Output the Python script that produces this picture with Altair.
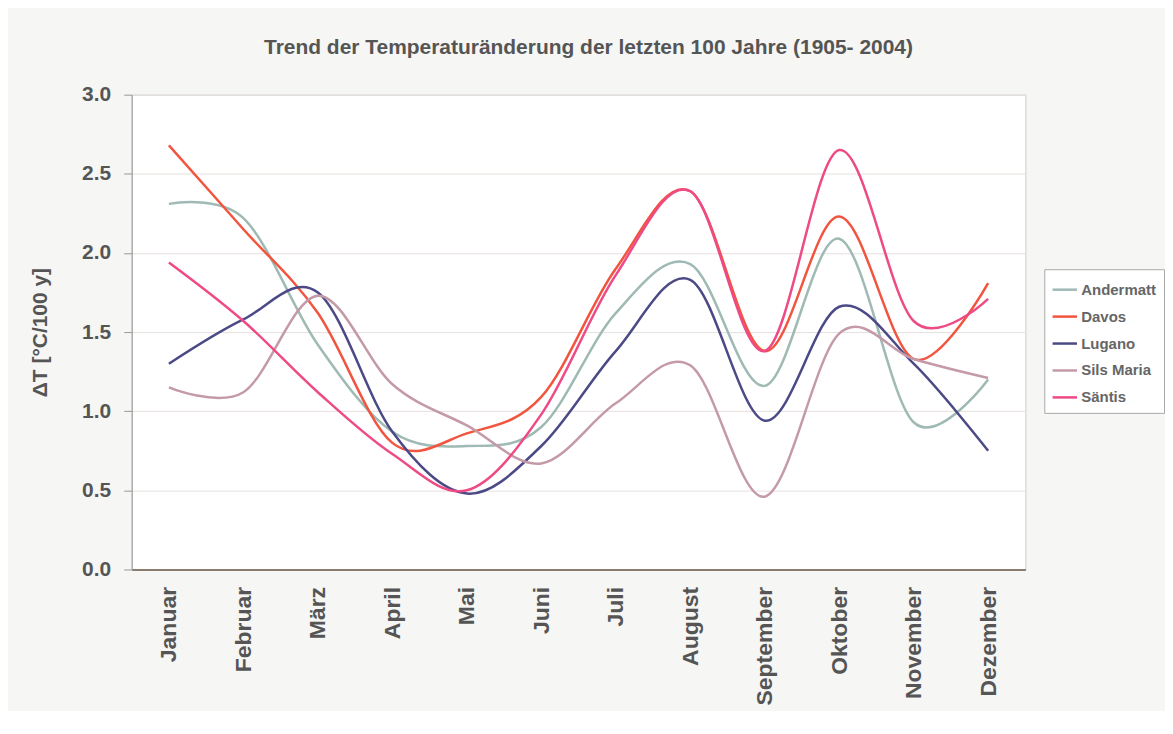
import altair as alt
import pandas as pd

months = ["Januar", "Februar", "März", "April", "Mai", "Juni", "Juli",
          "August", "September", "Oktober", "November", "Dezember"]
stations = ["Andermatt", "Davos", "Lugano", "Sils Maria", "Säntis"]
andermatt = [2.31, 2.22, 1.42, 0.87, 0.78, 0.90, 1.62, 1.93, 1.16, 2.09, 0.93, 1.20]
davos = [2.68, 2.15, 1.62, 0.80, 0.86, 1.09, 1.90, 2.39, 1.38, 2.23, 1.33, 1.81]
lugano = [1.30, 1.58, 1.75, 0.87, 0.48, 0.78, 1.38, 1.83, 0.94, 1.66, 1.30, 0.75]
sils_maria = [1.15, 1.12, 1.73, 1.17, 0.91, 0.67, 1.05, 1.29, 0.46, 1.49, 1.33, 1.21]
saentis = [1.94, 1.57, 1.12, 0.73, 0.50, 0.98, 1.86, 2.39, 1.38, 2.65, 1.57, 1.71]
colors = ["#9fb9b4", "#f2553f", "#4b4a86", "#c49aa8", "#ee4a85"]
y_ticks = [0.0, 0.5, 1.0, 1.5, 2.0, 2.5, 3.0]

series = [andermatt, davos, lugano, sils_maria, saentis]
rows = []
for name, vals in zip(stations, series):
    for m, v in zip(months, vals):
        rows.append({"Monat": m, "Station": name, "dT": v})
df = pd.DataFrame(rows)

font = "Liberation Sans"

chart = alt.Chart(df).mark_line(
    interpolate="cardinal", strokeWidth=2.5
).encode(
    x=alt.X("Monat:N", sort=months, title=None,
            scale=alt.Scale(type="point", padding=0.5),
            axis=alt.Axis(labelAngle=-90, labelFont=font, labelFontSize=23,
                          labelFontWeight="bold", labelColor="#555555",
                          labelPadding=17, ticks=False, grid=False,
                          domainColor="#6b5a4a", domainWidth=1.5,
                          labelBaseline="middle")),
    y=alt.Y("dT:Q", title="ΔT [°C/100 y]",
            scale=alt.Scale(domain=[0, 3], nice=False),
            axis=alt.Axis(values=y_ticks, format=".1f", labelFont=font,
                          labelFontSize=21, labelFontWeight="bold",
                          labelColor="#555555", tickSize=8, tickColor="#999999",
                          labelPadding=13, domainColor="#999999",
                          gridColor="#e6e0dc", gridWidth=1,
                          titleFont=font, titleFontSize=21, titleFontWeight="bold",
                          titleColor="#555555", titlePadding=31)),
    color=alt.Color("Station:N", sort=stations,
                    scale=alt.Scale(domain=stations, range=colors),
                    legend=alt.Legend(title=None, orient="none", legendX=915, legendY=175,
                                      symbolType="stroke", symbolSize=600,
                                      symbolStrokeWidth=2.5, labelFont=font,
                                      labelFontSize=15, labelFontWeight="bold",
                                      labelColor="#666666", rowPadding=5,
                                      labelOffset=3, padding=7,
                                      strokeColor="#aaaaaa", fillColor="#ffffff")),
).properties(
    width=896,
    height=476,
    padding={"left": 21, "top": 28, "right": 0, "bottom": 5},
    title=alt.TitleParams("Trend der Temperaturänderung der letzten 100 Jahre (1905- 2004)",
                          font=font, fontSize=21, fontWeight="bold", color="#555555",
                          offset=26, anchor="middle", dx=10),
    background="#f6f6f4",
).configure_view(
    fill="#ffffff", stroke="#cccccc"
)

chart.save("out.html", embed_options={"renderer": "svg", "actions": False})
